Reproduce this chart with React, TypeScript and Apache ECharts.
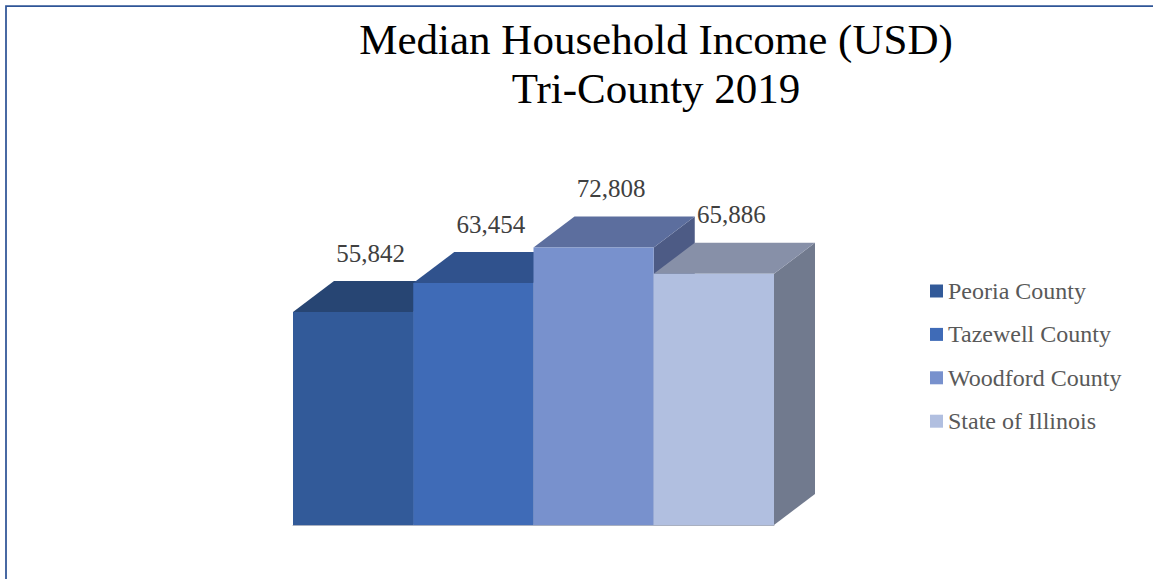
import React, { useEffect, useRef } from "react";
import * as echarts from "echarts";

const categories = ["Peoria County", "Tazewell County", "Woodford County", "State of Illinois"];
const values = [55842, 63454, 72808, 65886];
const frontColors = ["#325A99", "#3F6BB7", "#7891CD", "#B1BFE0"];
const topColors = ["#274573", "#30528D", "#5C6E9E", "#8790A8"];
const sideColors = ["#22406A", "#2B4B80", "#4D5B85", "#717A8E"];
const titleLines = ["Median Household Income (USD)", "Tri-County 2019"];

const DX = 41;
const DY = 31;
const SERIF = "'Liberation Serif', 'Times New Roman', serif";

function makeRender(i: number) {
  return (params: any, api: any) => {
    const idx = api.value(0);
    const val = api.value(1);
    const top = api.coord([idx, val]);
    const base = api.coord([idx, 0]);
    const bw = api.size([1, 0])[0];
    const x0 = top[0] - bw / 2;
    const x1 = top[0] + bw / 2;
    const yt = top[1];
    const yb = base[1];
    return {
      type: "group",
      children: [
        {
          type: "polygon",
          shape: { points: [[x1, yt], [x1 + DX, yt - DY], [x1 + DX, yb - DY], [x1, yb]] },
          style: { fill: sideColors[i] },
        },
        {
          type: "polygon",
          shape: { points: [[x0, yt], [x0 + DX, yt - DY], [x1 + DX, yt - DY], [x1, yt]] },
          style: { fill: topColors[i] },
        },
        {
          type: "rect",
          shape: { x: x0, y: yt, width: bw, height: yb - yt },
          style: { fill: frontColors[i] },
        },
        {
          type: "text",
          x: (x0 + x1) / 2 + DX / 2 - 3,
          y: yt - DY - 28,
          style: {
            text: Number(val).toLocaleString("en-US"),
            align: "center",
            verticalAlign: "middle",
            fontFamily: SERIF,
            fontSize: 25,
            fill: "#404040",
          },
        },
      ],
    };
  };
}

export default function App() {
  const ref = useRef<HTMLDivElement>(null);
  useEffect(() => {
    if (!ref.current) return;
    const chart = echarts.init(ref.current, undefined, { renderer: "svg" });
    chart.setOption({
      animation: false,
      backgroundColor: "#ffffff",
      title: {
        text: titleLines.join("\n"),
        left: 656,
        top: 15,
        padding: 0,
        textAlign: "center",
        textStyle: {
          fontFamily: SERIF,
          fontSize: 43,
          fontWeight: "normal",
          color: "#000000",
          lineHeight: 49,
        },
      },
      legend: {
        data: categories.map((c) => ({ name: c, icon: "rect" })),
        orient: "vertical",
        left: 930,
        top: 279,
        padding: 0,
        itemWidth: 13,
        itemHeight: 13,
        itemGap: 19.4,
        selectedMode: false,
        textStyle: { fontFamily: SERIF, fontSize: 24, color: "#595959", lineHeight: 24 },
      },
      grid: { left: 293, right: 379, top: 220, bottom: 54 },
      xAxis: {
        type: "category",
        data: categories,
        axisLine: { show: true, lineStyle: { color: "#A9B0C0", width: 1 } },
        axisTick: { show: false },
        axisLabel: { show: false },
      },
      yAxis: {
        type: "value",
        min: 0,
        max: 80000,
        show: false,
        splitLine: { show: false },
      },
      graphic: [
        {
          type: "rect",
          silent: true,
          shape: { x: 6, y: 6, width: 1400, height: 900 },
          style: { fill: "none", stroke: "#2F5597", lineWidth: 1.75 },
        },
      ],
      series: categories.map((name, i) => ({
        type: "custom",
        name,
        itemStyle: { color: frontColors[i] },
        renderItem: makeRender(i),
        data: [[i, values[i]]],
      })),
    });
    return () => chart.dispose();
  }, []);
  return (
    <div
      ref={ref}
      style={{ position: "absolute", left: 0, top: 0, width: 1153, height: 579 }}
    />
  );
}
